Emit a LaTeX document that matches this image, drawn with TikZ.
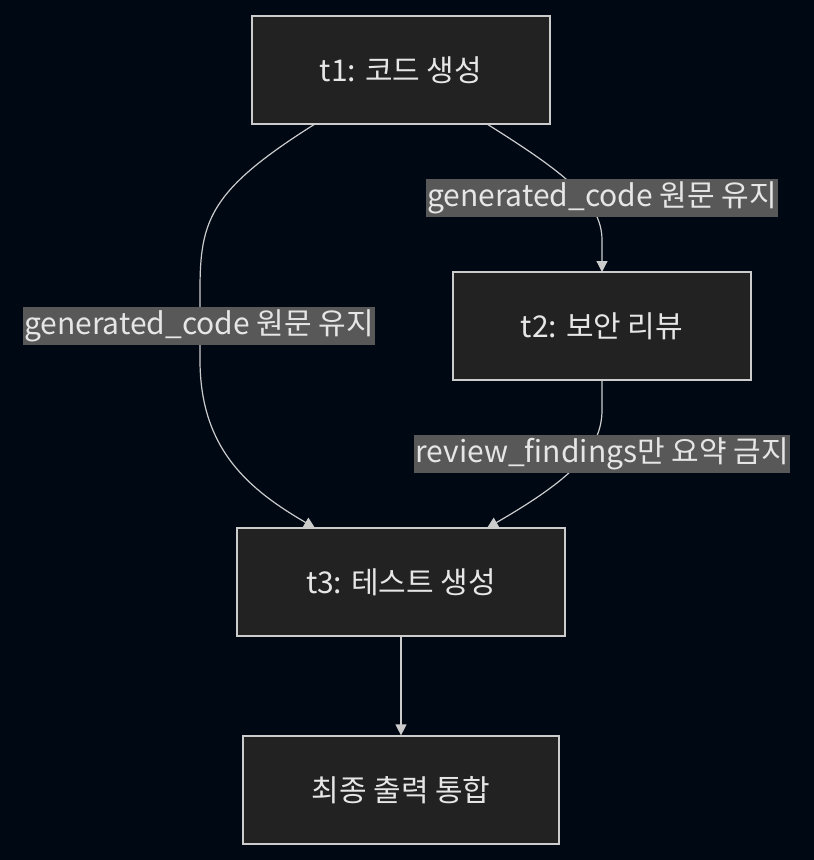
\documentclass[tikz,border=0pt]{standalone}
\usepackage{fontspec}
\setmainfont{Noto Sans CJK KR}
\usetikzlibrary{arrows.meta}
\definecolor{bg}{HTML}{000814}
\definecolor{nodefill}{HTML}{222222}
\definecolor{nodeline}{HTML}{CCCCCC}
\definecolor{lblfill}{HTML}{585858}
\definecolor{txt}{HTML}{E6E6E6}
\begin{document}
\begin{tikzpicture}[x=1pt,y=-1pt,
  box/.style={draw=nodeline,line width=1.2pt,fill=nodefill,text=txt,font=\fontsize{30}{34}\selectfont,inner sep=0pt},
  lbl/.style={fill=lblfill,text=txt,font=\fontsize{30}{34}\selectfont,inner xsep=1pt,inner ysep=3pt},
  edge/.style={draw=nodeline,line width=1.2pt,-{Triangle[length=11pt,width=11pt]}}]
\fill[bg] (0,0) rectangle (814,860);
\useasboundingbox (0,0) rectangle (814,860);
\node[box,minimum width=298pt,minimum height=108pt] (t1) at (401,70) {t1: 코드 생성};
\node[box,minimum width=298pt,minimum height=108pt] (t2) at (602,326) {t2: 보안 리뷰};
\node[box,minimum width=328pt,minimum height=108pt] (t3) at (401,582) {t3: 테스트 생성};
\node[box,minimum width=316pt,minimum height=108pt] (t4) at (401,790) {최종 출력 통합};
\coordinate (a1) at (315,124);
\coordinate (a2) at (315,528);
\coordinate (b1) at (487,124);
\coordinate (b2) at (602,272);
\coordinate (c1) at (602,380);
\coordinate (c2) at (487,528);
\draw[edge] (a1) .. controls (210,190) and (200,220) .. (200,290) -- (200,360) .. controls (200,450) and (250,490) .. (a2);
\draw[edge] (b1) .. controls (560,170) and (602,200) .. (602,240) -- (b2);
\draw[edge] (c1) -- (602,410) .. controls (602,450) and (570,480) .. (c2);
\draw[edge] (t3) -- (t4);
\node[lbl] (l1) at (602,198) {generated\_code 원문 유지};
\node[lbl] (l2) at (199,326) {generated\_code 원문 유지};
\node[lbl] (l3) at (602,454) {review\_findings만 요약 금지};
\end{tikzpicture}
\end{document}
